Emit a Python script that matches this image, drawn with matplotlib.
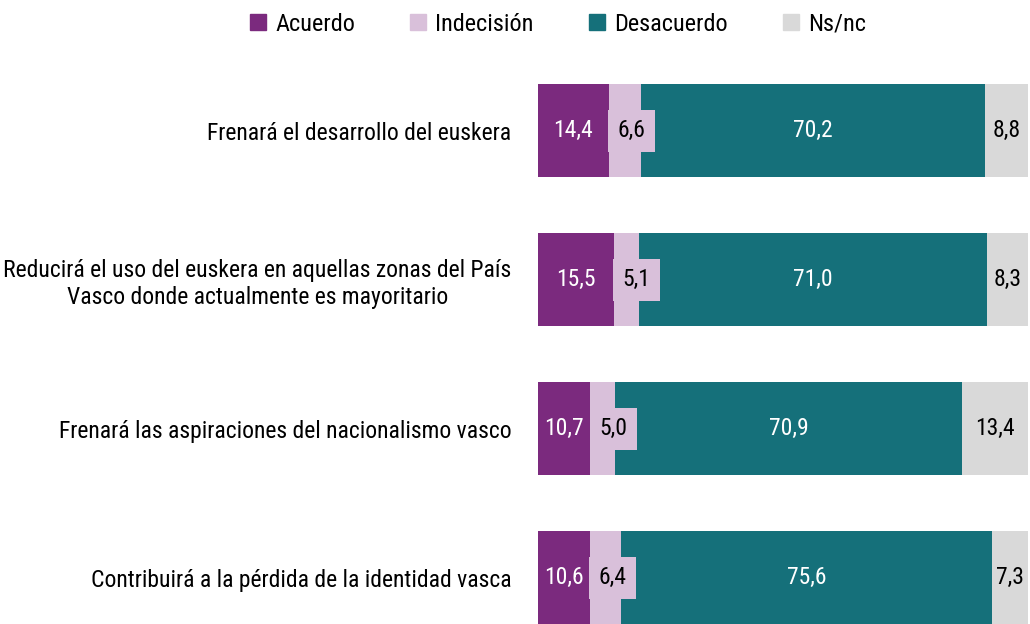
import matplotlib.pyplot as plt
from matplotlib import font_manager
import numpy as np

#============= Data =============

categories = ['Frenará el desarrollo del euskera',
              'Reducirá el uso del euskera en aquellas zonas del País\nVasco donde actualmente es mayoritario',
              'Frenará las aspiraciones del nacionalismo vasco',
              'Contribuirá a la pérdida de la identidad vasca']
series = ['Acuerdo', 'Indecisión', 'Desacuerdo', 'Ns/nc']
acuerdo = [14.4, 15.5, 10.7, 10.6]
indecision = [6.6, 5.1, 5.0, 6.4]
desacuerdo = [70.2, 71.0, 70.9, 75.6]
nsnc = [8.8, 8.3, 13.4, 7.3]

colors = ['#7b2a7e', '#d9c0da', '#15707a', '#d9d9d9']
text_colors = ['white', 'black', 'white', 'black']

#============= Font =============

names = {f.name for f in font_manager.fontManager.ttflist}
fam = 'Roboto Condensed' if 'Roboto Condensed' in names else 'DejaVu Sans'
plt.rcParams['font.family'] = [fam, 'DejaVu Sans']

#============= Plot =============

fig = plt.figure(figsize=(10.3, 6.24), dpi=100)
ax = fig.add_axes([538 / 1030, 0, 490 / 1030, 1 - 56 / 624])

values = [acuerdo, indecision, desacuerdo, nsnc]
y = np.arange(len(categories))
left = np.zeros(len(categories))
bh = 0.625
for i, (vals, clr) in enumerate(zip(values, colors)):
    vals = np.array(vals)
    ax.barh(y, vals, left=left, height=bh, color=clr, label=series[i])
    for j, v in enumerate(vals):
        txt = f'{v:.1f}'.replace('.', ',')
        if i == 1:
            # small segment: label box starts at segment edge
            ax.text(left[j] + 1.8, y[j], txt, ha='left', va='center',
                    fontsize=17, color=text_colors[i],
                    bbox=dict(boxstyle='square,pad=0.4', fc=clr, ec='none'))
        else:
            ax.text(left[j] + v / 2, y[j], txt, ha='center', va='center',
                    fontsize=17, color=text_colors[i])
    left += vals

ax.set_xlim(0, 100)
ax.set_ylim(3 + 46 / 149, -0.5)
ax.set_yticks(y)
ax.set_yticklabels(categories, fontsize=17)
for t in ax.get_yticklabels():
    t.set_multialignment('center')
ax.tick_params(axis='y', length=0, pad=19)
ax.set_xticks([])
for s in ax.spines.values():
    s.set_visible(False)

handles = [plt.Line2D([], [], marker='s', ls='', ms=11, color=c) for c in colors]
fig.legend(handles, series, loc='upper center', bbox_to_anchor=(0.541, 1.015),
           ncol=4, frameon=False, fontsize=17.5, handletextpad=0.3,
           columnspacing=2.2, handlelength=0.8)

fig.savefig('out.png', dpi=100)
